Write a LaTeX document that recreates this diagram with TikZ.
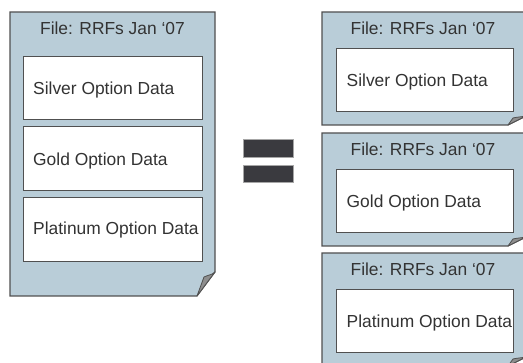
\documentclass[tikz,border=0pt]{standalone}
\usepackage{fontspec}
\setmainfont{Liberation Sans}
\definecolor{pagefill}{HTML}{B9CDD8}
\definecolor{pageline}{HTML}{505050}
\definecolor{textgray}{HTML}{333333}
\definecolor{barfill}{HTML}{3A3A3F}
\definecolor{flapfill}{HTML}{8E8E8E}
\tikzset{
  x=1pt, y=-1pt,
  page/.style={fill=pagefill, draw=pageline, line width=1.2pt, line join=miter},
  flap/.style={fill=flapfill, draw=pageline, line width=0.8pt, line join=round},
  databox/.style={draw=pageline, fill=white, line width=1pt, inner sep=0pt, anchor=north west},
  title/.style={text=textgray, font=\fontsize{17.4}{20}\selectfont, anchor=base, inner sep=0pt},
  label/.style={text=textgray, font=\fontsize{17.4}{20}\selectfont, anchor=base west, inner sep=0pt},
  bar/.style={fill=barfill, draw=gray!70, line width=0.6pt}
}
\begin{document}
\begin{tikzpicture}
\useasboundingbox (0,0) rectangle (523,363);

% combined file on the left
\draw[page] (10,12) -- (215,12) -- (215,272) -- (197,296) -- (10,296) -- cycle;
\draw[flap] (197,296) -- (204,277) .. controls (208,275) and (212,275) .. (215,272) -- cycle;
\node[title] (ltitle) at (112.5,35) {File: RRFs Jan ‘07};
\node[databox, minimum width=178.5pt, minimum height=63pt] (lsilver) at (23,56) {};
\node[databox, minimum width=178.5pt, minimum height=64pt] (lgold) at (23,126) {};
\node[databox, minimum width=178.5pt, minimum height=64pt] (lplat) at (23,197) {};
\node[label] (lsilvertext) at (33,94.3) {Silver Option Data};
\node[label] (lgoldtext) at (33,165.5) {Gold Option Data};
\node[label] (lplattext) at (33,235) {Platinum Option Data};

% equals sign
\draw[bar] (243,139.5) rectangle (293,157);
\draw[bar] (243,165) rectangle (293,182.5);

% three separate files on the right
\foreach \t/\name/\txt in {12/a/Silver Option Data, 133/b/Gold Option Data, 253/c/Platinum Option Data}{
  \draw[page] (322,\t) -- (526,\t) -- (526,\t+104) -- (508,\t+113) -- (322,\t+113) -- cycle;
  \draw[flap] (508,\t+113) -- (513,\t+106) .. controls (517,\t+105) and (521,\t+105) .. (526,\t+104) -- cycle;
  \node[title] (rtitle\name) at (423,\t+22.5) {File: RRFs Jan ‘07};
  \node[databox, minimum width=177pt, minimum height=63.5pt] (rbox\name) at (335.7,\t+36) {};
  \node[label] (rtext\name) at (346.5,\t+75) {\txt};
}
\end{tikzpicture}
\end{document}
